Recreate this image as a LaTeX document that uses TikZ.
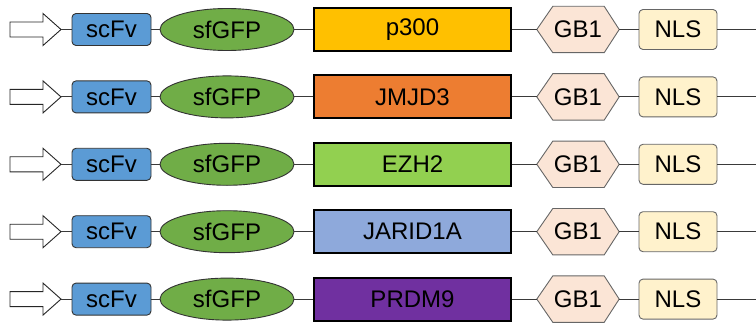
\documentclass[tikz,border=0pt]{standalone}
\usepackage{fontspec}
\setmainfont{Liberation Sans}
\usetikzlibrary{shapes.geometric,backgrounds}
\definecolor{scfvblue}{HTML}{5B9BD5}
\definecolor{gfpgreen}{HTML}{70AD47}
\definecolor{gbpink}{HTML}{FBE5D6}
\definecolor{nlscream}{HTML}{FFF2CC}
\definecolor{cP}{HTML}{FFC000}
\definecolor{cJ}{HTML}{ED7D31}
\definecolor{cE}{HTML}{92D050}
\definecolor{cA}{HTML}{8EA9DB}
\definecolor{cR}{HTML}{7030A0}
\definecolor{linegray}{HTML}{3A3A3A}
\tikzset{
  lbl/.style={font=\fontsize{24}{26}\selectfont, inner sep=0pt, text=black},
  scfvbox/.style={lbl, draw=black!80, line width=0.9pt, fill=scfvblue, rounded corners=4pt, minimum width=79pt, minimum height=32pt},
  gfpell/.style={lbl, ellipse, draw=black!80, line width=0.9pt, fill=gfpgreen, minimum width=134pt, minimum height=42pt},
  fusbox/.style={lbl, draw=black, line width=2pt, minimum width=197pt, minimum height=43pt},
  gbtext/.style={lbl, minimum width=82pt, minimum height=46pt},
  gbhex/.style={draw=black!60, line width=0.9pt, fill=gbpink, line join=miter},
  nlsbox/.style={lbl, draw=black!60, line width=0.9pt, fill=nlscream, rounded corners=4pt, minimum width=78pt, minimum height=40pt},
  conn/.style={draw=linegray, line width=0.9pt},
  promarrow/.style={draw=black!85, line width=0.9pt, fill=white, line join=miter}
}
\begin{document}
\begin{tikzpicture}[x=1pt,y=1pt]
\useasboundingbox (0,0) rectangle (756,322);
\foreach \i/\name/\col in {0/p300/cP,1/JMJD3/cJ,2/EZH2/cE,3/JARID1A/cA,4/PRDM9/cR}{
  \pgfmathsetmacro{\c}{322-29.5-67.4*\i}
  \begin{scope}[yshift=\c pt]
    \draw[promarrow] (10,7.5) -- (43,7.5) -- (43,16) -- (61,0) -- (43,-16) -- (43,-7.5) -- (10,-7.5) -- cycle;
    \coordinate (tip\i) at (61,0);
    \node[scfvbox] (scfv\i) at (111.5,0) {scFv};
    \node[gfpell] (gfp\i) at (227,0) {sfGFP};
    \node[fusbox, fill=\col] (fus\i) at (412.5,0) {\name};
    \node[gbtext] (gb\i) at (578,0) {GB1};
    \begin{pgfonlayer}{background}
      \draw[gbhex] (gb\i.west) -- ([xshift=16pt]gb\i.north west) -- ([xshift=-15pt]gb\i.north east) -- (gb\i.east) -- ([xshift=-15pt]gb\i.south east) -- ([xshift=16pt]gb\i.south west) -- cycle;
    \end{pgfonlayer}
    \node[nlsbox] (nls\i) at (678,0) {NLS};
    \coordinate (end\i) at (756,0);
    \draw[conn] (tip\i) -- (scfv\i.west);
    \draw[conn] (scfv\i.east) -- (gfp\i.west);
    \draw[conn] (gfp\i.east) -- (fus\i.west);
    \draw[conn] (fus\i.east) -- (gb\i.west);
    \draw[conn] (gb\i.east) -- (nls\i.west);
    \draw[conn] (nls\i.east) -- (end\i);
  \end{scope}
}
\end{tikzpicture}
\end{document}
